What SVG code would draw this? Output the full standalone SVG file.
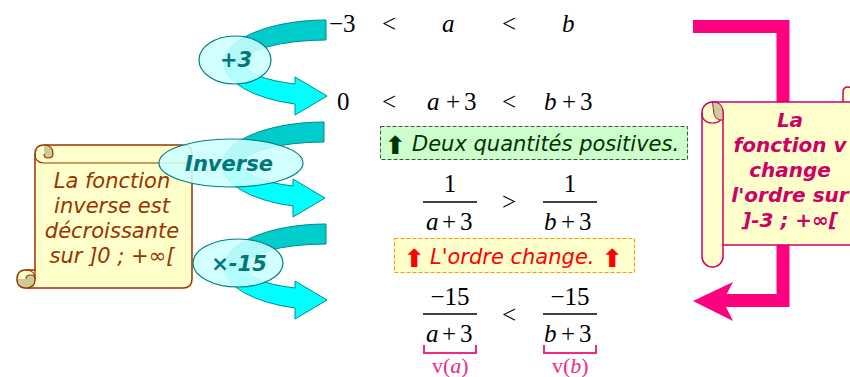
<svg xmlns="http://www.w3.org/2000/svg" width="850" height="377" viewBox="0 0 850 377">
<defs>
<style>
.m{font-family:"Liberation Serif","Times New Roman",serif;font-size:25px;fill:#000}
.i{font-style:italic}
.ub{fill:#00CCCC;stroke:#008C8C;stroke-width:1}
.lb{fill:#00FFFF;stroke:#008C8C;stroke-width:1}
.ell{fill:#CCFFFF;fill-opacity:0.88;stroke:#008080;stroke-width:1.2}
.et{font-family:"DejaVu Sans",Verdana,sans-serif;font-weight:bold;font-style:italic;font-size:21px;fill:#007878;text-anchor:middle}
.v{font-family:"DejaVu Sans",Verdana,sans-serif;font-style:italic;font-size:21px}
.ar{font-family:"DejaVu Sans",sans-serif;font-size:25px;font-weight:bold}
.fl{stroke:#000;stroke-width:1.3}
.pk{fill:none;stroke:#F0288C;stroke-width:2}
.pt{font-family:"Liberation Serif","Times New Roman",serif;font-size:22px;fill:#F0288C}
</style>
<g id="arrowShape">
<path class="ub" d="M326,20 A102,43 0 0 0 224,63 L244,63 A82,23 0 0 1 326,40 Z"/>
<path class="lb" d="M224,63 A102,43 0 0 0 295,104 L295,115 L327,96 L295,77 L295,84 A82,23 0 0 1 244,63 Z"/>
</g>
</defs>

<g id="connectors">
<use href="#arrowShape"/>
<use href="#arrowShape" transform="translate(-2,102)"/>
<use href="#arrowShape" transform="translate(0,204)"/>
<path d="M693,26.5 H783 V300.5 H722" fill="none" stroke="#FF0080" stroke-width="13"/>
<polygon points="693,301 733,282 723,301 733,321" fill="#FF0080"/>
</g>

<g id="scroll-left">
<path d="M35,154 Q35,145 44,145 H183 Q192,145 192,154 V279 Q192,288 183,288 H26 Q17,288 17,279 Q17,270 26,270 H35 Z" fill="#FFFFCC" stroke="#993300" stroke-width="1.5"/>
<path d="M35,154 Q35,163 44,163 H192" fill="none" stroke="#993300" stroke-width="1.2"/>
<path d="M44,145 Q53,145 53,154 Q53,158 48,158 Q44,158 44,154" fill="#CCCC99" stroke="#993300" stroke-width="1.2"/>
<path d="M26,270 Q35,270 35,279 Q35,288 26,288" fill="none" stroke="#993300" stroke-width="1.2"/>
<path d="M26,279 Q26,275 30,275 Q35,275 35,279 Q35,288 26,288 Q17,288 17,279" fill="#CCCC99" stroke="#993300" stroke-width="1.2"/>
<line x1="35" y1="270" x2="35" y2="279" stroke="#993300" stroke-width="1.2"/>
<g font-family="DejaVu Sans,Verdana,sans-serif" font-style="italic" font-size="21" fill="#993300" text-anchor="middle">
<text x="112" y="188">La fonction</text>
<text x="112" y="213">inverse est</text>
<text x="112" y="238">décroissante</text>
<text x="112" y="263">sur ]0 ; +∞[</text>
</g>
</g>

<g id="op-plus3">
<ellipse class="ell" cx="235" cy="60" rx="36" ry="24"/>
<text class="et" x="236" y="67">+3</text>
</g>
<g id="op-inverse">
<ellipse class="ell" cx="231" cy="163" rx="72" ry="24"/>
<text class="et" x="229" y="171">Inverse</text>
</g>
<g id="op-times15">
<ellipse class="ell" cx="238" cy="263" rx="45" ry="24"/>
<text class="et" x="239" y="271">×-15</text>
</g>

<g id="row1">
<text class="m" x="329" y="32">−3</text>
<text class="m" x="382" y="32">&lt;</text>
<text class="m i" x="442" y="32">a</text>
<text class="m" x="502" y="32">&lt;</text>
<text class="m i" x="562" y="32">b</text>
</g>
<g id="row2">
<text class="m" x="337" y="110">0</text>
<text class="m" x="382" y="110">&lt;</text>
<text class="m i" x="427" y="110">a</text>
<text class="m" x="446" y="110">+</text>
<text class="m" x="464" y="110">3</text>
<text class="m" x="502" y="110">&lt;</text>
<text class="m i" x="544" y="110">b</text>
<text class="m" x="562" y="110">+</text>
<text class="m" x="580" y="110">3</text>
</g>

<g id="note-positive">
<rect x="380.5" y="126.5" width="307" height="33" fill="#CCFFCC" stroke="#2E5E2E" stroke-width="1" stroke-dasharray="4,2"/>
<text class="ar" x="385" y="154" fill="#003300">⬆</text>
<text class="v" x="412" y="151" fill="#003300">Deux quantités positives.</text>
</g>

<g id="row3">
<text class="m" x="450" y="192" text-anchor="middle">1</text>
<line class="fl" x1="423" y1="202" x2="477" y2="202"/>
<text class="m i" x="426" y="230">a</text>
<text class="m" x="442" y="230">+</text>
<text class="m" x="460" y="230">3</text>
<text class="m" x="502" y="210">&gt;</text>
<text class="m" x="570" y="192" text-anchor="middle">1</text>
<line class="fl" x1="543" y1="202" x2="597" y2="202"/>
<text class="m i" x="544" y="230">b</text>
<text class="m" x="561" y="230">+</text>
<text class="m" x="579" y="230">3</text>
</g>

<g id="note-order">
<rect x="394.5" y="238.5" width="240" height="34" fill="#FFFFCC" stroke="#FF9900" stroke-width="1" stroke-dasharray="4,2"/>
<text class="ar" x="404" y="267" fill="#FF0000">⬆</text>
<text class="v" x="430" y="264" fill="#FF0000">L'ordre change.</text>
<text class="ar" x="602" y="267" fill="#FF0000">⬆</text>
</g>

<g id="row4">
<text class="m" x="450" y="305" text-anchor="middle">−15</text>
<line class="fl" x1="423" y1="314" x2="477" y2="314"/>
<text class="m i" x="426" y="342">a</text>
<text class="m" x="442" y="342">+</text>
<text class="m" x="460" y="342">3</text>
<text class="m" x="502" y="323">&lt;</text>
<text class="m" x="570" y="305" text-anchor="middle">−15</text>
<line class="fl" x1="543" y1="314" x2="597" y2="314"/>
<text class="m i" x="544" y="342">b</text>
<text class="m" x="561" y="342">+</text>
<text class="m" x="579" y="342">3</text>
</g>

<g id="labels">
<path class="pk" d="M424,345 V353 H476 V345"/>
<path class="pk" d="M544,345 V353 H596 V345"/>
<text class="pt" x="432" y="373">v(<tspan font-style="italic">a</tspan>)</text>
<text class="pt" x="552" y="373">v(<tspan font-style="italic">b</tspan>)</text>
</g>

<g id="scroll-right">
<rect x="712" y="102" width="150" height="143" fill="#FFFFCC" stroke="#CC0066" stroke-width="1.5"/>
<path d="M843,102 V92 Q843,87 848,87 Q853,87 853,92" fill="#FFFFCC" stroke="#CC0066" stroke-width="1.5"/>
<rect x="702" y="102" width="21" height="165" rx="10.5" fill="#FFFFCC" stroke="#CC0066" stroke-width="1.5"/>
<path d="M702,112.5 Q702,123 712.5,123 Q723,123 723,112.5" fill="none" stroke="#CC0066" stroke-width="1.2"/>
<path d="M712.5,102 Q723,102 723,112.5 V120 Q716,121 714,114 Q713,107 712.5,102 Z" fill="#CCCC99" stroke="#CC0066" stroke-width="1"/>
<g font-family="DejaVu Sans,Verdana,sans-serif" font-style="italic" font-weight="bold" font-size="20" fill="#CC0066" text-anchor="middle">
<text x="790" y="127">La</text>
<text x="790" y="152">fonction v</text>
<text x="790" y="177">change</text>
<text x="790" y="202">l'ordre sur</text>
<text x="790" y="227">]-3 ; +∞[</text>
</g>
</g>
</svg>
